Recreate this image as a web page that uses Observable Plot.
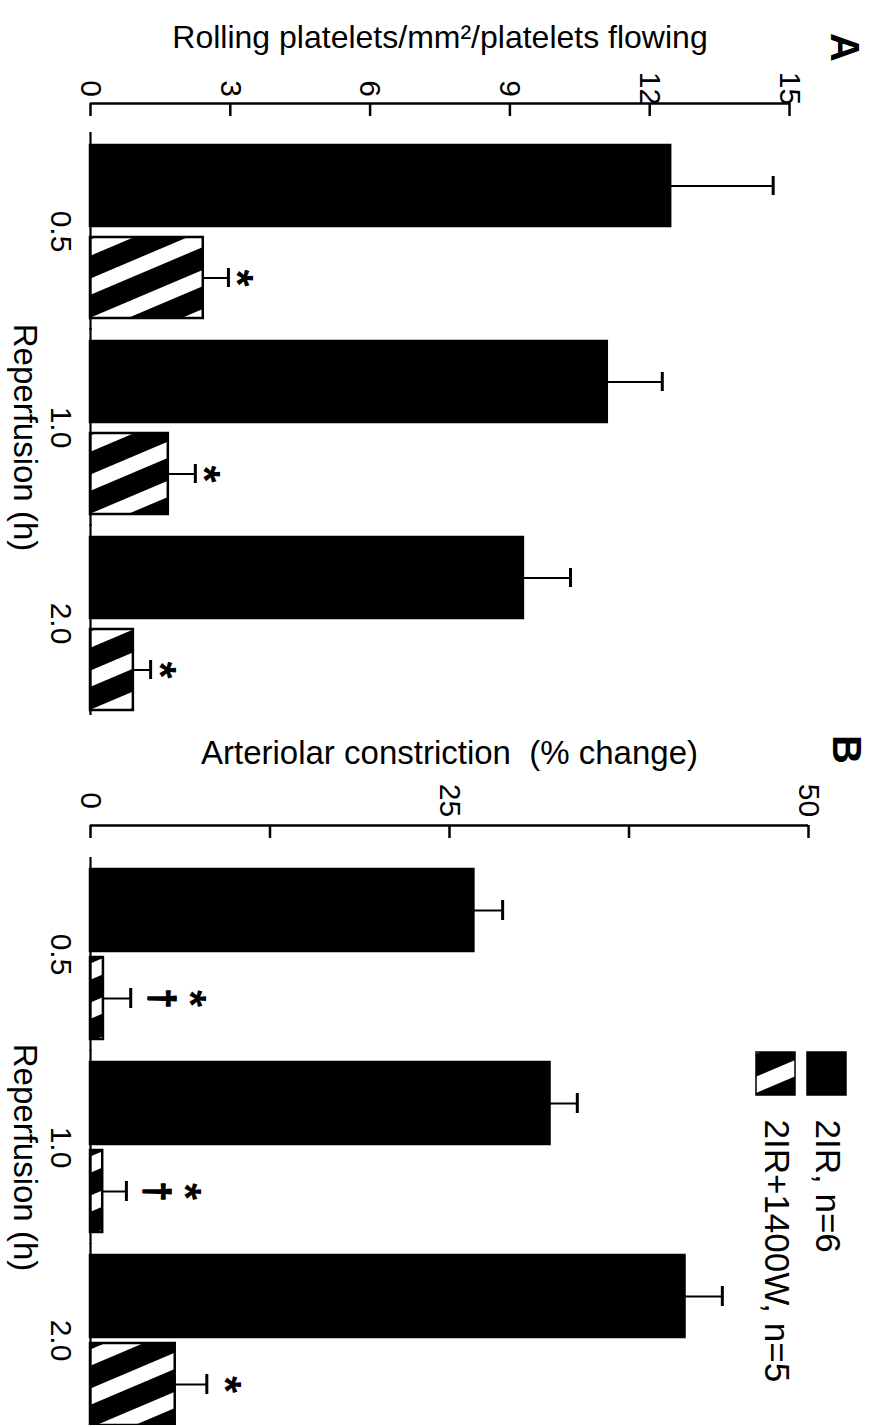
<!DOCTYPE html>
<html>
<head>
<meta charset="utf-8">
<script src="https://cdn.jsdelivr.net/npm/d3@7"></script>
<script src="https://cdn.jsdelivr.net/npm/@observablehq/plot@0.6"></script>
<style>
  html, body { margin: 0; padding: 0; background: white; }
  #page { position: relative; width: 874px; height: 1425px; overflow: hidden; background: white; }
  #page > svg { position: absolute; }
</style>
</head>
<body>
<svg width="0" height="0" style="position:absolute">
  <defs>
    <pattern id="hatch" patternUnits="userSpaceOnUse" width="36" height="36" patternTransform="rotate(-23)">
      <rect width="36" height="36" fill="black"></rect>
      <rect y="4" width="36" height="15" fill="white"></rect>
    </pattern>
  </defs>
</svg>
<div id="page"></div>
<script>
// ---------- data ----------
const times = ["0.5", "1.0", "2.0"];
const seriesNames = ["2IR, n=6", "2IR+1400W, n=5"];

// Panel A: rolling platelets/mm²/platelets flowing
const rollingIR = [12.45, 11.09, 9.29];
const rollingIRsem = [2.2, 1.18, 1.01];
const rolling1400W = [2.42, 1.67, 0.92];
const rolling1400Wsem = [0.54, 0.58, 0.37];
const rollingStar = [true, true, true];

// Panel B: arteriolar constriction (% change)
const constrictionIR = [26.7, 32.0, 41.4];
const constrictionIRsem = [2.0, 1.9, 2.6];
const constriction1400W = [0.9, 0.85, 5.9];
const constriction1400Wsem = [1.9, 1.65, 2.2];
const constrictionStar = [true, true, true];
const constrictionDagger = [true, true, false];

const ticksA = [0, 3, 6, 9, 12, 15];
const ticksB = [0, 25, 50];
const minorTicksB = [12.5, 37.5];
const domainA = [0, 15];
const domainB = [0, 50];

const titleA = "Rolling platelets/mm²/platelets flowing";
const titleB = "Arteriolar constriction\u00a0 (% change)";
const xTitle = "Reperfusion (h)";

// ---------- build rows ----------
function buildRows(m0, s0, m1, s1, star, dagger) {
  return times.flatMap((t, i) => [
    {time: t, series: seriesNames[0], value: m0[i], upper: m0[i] + s0[i], star: false, dagger: false},
    {time: t, series: seriesNames[1], value: m1[i], upper: m1[i] + s1[i], star: star[i], dagger: dagger ? dagger[i] : false}
  ]);
}
const dataA = buildRows(rollingIR, rollingIRsem, rolling1400W, rolling1400Wsem, rollingStar, null);
const dataB = buildRows(constrictionIR, constrictionIRsem, constriction1400W, constriction1400Wsem, constrictionStar, constrictionDagger);

const FONT = "'Liberation Sans', Arial, Helvetica, sans-serif";
const baseStyle = {fontFamily: FONT, background: "transparent", color: "black"};
const colorScale = {domain: seriesNames, range: ["black", "url(#hatch)"]};

const page = document.getElementById("page");
function place(svg, left, top) {
  svg.style.left = left + "px";
  svg.style.top = top + "px";
  page.appendChild(svg);
}

// ---------- value axis charts ----------
function axisChart({height, marginTop, marginRight, domain, labelTicks, allTicks, title, titleSize, letter, titleDy, letterDx, letterDy, tickPadding}) {
  return Plot.plot({
    width: 874, height, marginTop, marginBottom: height - marginTop - 13, marginLeft: 90, marginRight,
    style: baseStyle,
    x: {domain},
    y: {domain: [0, 1], axis: null},
    marks: [
      Plot.ruleY([1], {strokeWidth: 2.5}),
      Plot.ruleX(allTicks, {strokeWidth: 2.5}),
      Plot.axisX(labelTicks, {anchor: "top", tickSize: 0, tickPadding, tickRotate: 90, textAnchor: "middle", lineAnchor: "middle", fontSize: 30, tickFormat: d => String(d), label: null}),
      Plot.text([title], {frameAnchor: "top", dy: titleDy, fontSize: titleSize, lineAnchor: "middle", textAnchor: "middle"}),
      Plot.text([letter], {frameAnchor: "top-right", dx: letterDx, dy: letterDy, rotate: 90, fontSize: 40, fontWeight: "bold", lineAnchor: "middle", textAnchor: "middle"})
    ]
  });
}

// ---------- bar charts ----------
function barChart({data, height, marginTop, marginBottom, marginRight, domain, yPad, fyPad, withDagger}) {
  const star = {x: "upper", y: "series", fy: "time", text: () => "*", rotate: 90, fontSize: 44, fontWeight: "bold", lineAnchor: "middle", textAnchor: "middle"};
  const marks = [
    Plot.barX(data, {x: "value", y: "series", fy: "time", fill: "series", stroke: "black", strokeWidth: 2.5}),
    Plot.ruleX([0], {strokeWidth: 2.2, insetTop: -12, insetBottom: -12}),
    Plot.ruleY(data, {y: "series", fy: "time", x1: "value", x2: "upper", strokeWidth: 2}),
    Plot.tickX(data, {x: "upper", y: "series", fy: "time", strokeWidth: 3, insetTop: 31, insetBottom: 31}),
    Plot.axisFy({anchor: "left", tickSize: 0, tickPadding: 18, tickRotate: 90, textAnchor: "middle", lineAnchor: "top", fontSize: 30, label: null}),
    Plot.text([{fy: times[1], t: xTitle}], {fy: "fy", text: "t", frameAnchor: "left", dx: -66, dy: 10, rotate: 90, fontSize: 33, lineAnchor: "middle", textAnchor: "middle"})
  ];
  if (withDagger) {
    marks.push(
      Plot.text(data.filter(d => d.dagger), {x: "upper", y: "series", fy: "time", text: () => "\u2020", dx: 30, rotate: 90, fontSize: 35, fontWeight: "bold", fill: "black", stroke: "black", strokeWidth: 1.6, lineAnchor: "middle", textAnchor: "middle"}),
      Plot.text(data.filter(d => d.star && d.dagger), {...star, dx: 58}),
      Plot.text(data.filter(d => d.star && !d.dagger), {...star, dx: 17})
    );
  } else {
    marks.push(Plot.text(data.filter(d => d.star), {...star, dx: 8}));
  }
  return Plot.plot({
    width: 874, height, marginTop, marginBottom, marginLeft: 90, marginRight,
    style: baseStyle,
    x: {domain, axis: null},
    y: {domain: seriesNames, paddingInner: yPad, paddingOuter: 0, axis: null},
    fy: {domain: times, paddingInner: fyPad, paddingOuter: 0, label: null},
    color: colorScale,
    marks
  });
}

// Panel A
place(axisChart({height: 120, marginTop: 103, marginRight: 85, domain: domainA, labelTicks: ticksA, allTicks: ticksA,
  title: titleA, titleSize: 32, letter: "A", titleDy: -66, letterDx: 54, letterDy: -56, tickPadding: 15}), 0, 0);
place(barChart({data: dataA, height: 599, marginTop: 27, marginBottom: 3, marginRight: 85, domain: domainA, yPad: 0.12, fyPad: 0.11, withDagger: false}), 0, 116);

// Panel B
place(axisChart({height: 125, marginTop: 110, marginRight: 66, domain: domainB, labelTicks: ticksB, allTicks: [...ticksB, ...minorTicksB],
  title: titleB, titleSize: 33, letter: "B", titleDy: -72, letterDx: 37, letterDy: -76, tickPadding: 25}), 0, 715);
place(barChart({data: dataB, height: 585, marginTop: 28, marginBottom: 0, marginRight: 66, domain: domainB, yPad: 0.07, fyPad: 0.12, withDagger: true}), 0, 840);

// Legend
const legend = Plot.plot({
  width: 134, height: 385, marginTop: 12, marginBottom: 330, marginLeft: 16, marginRight: 27,
  style: baseStyle,
  x: {domain: [seriesNames[1], seriesNames[0]], paddingInner: 0.233, paddingOuter: 0, axis: null},
  color: colorScale,
  marks: [
    Plot.cell(seriesNames, {x: d => d, fill: d => d, stroke: "black", strokeWidth: 1.5}),
    Plot.text(seriesNames, {x: d => d, text: d => d, frameAnchor: "bottom", dy: 24, rotate: 90, textAnchor: "start", lineAnchor: "middle", fontSize: 35})
  ]
});
place(legend, 740, 1040);
</script>
</body>
</html>
